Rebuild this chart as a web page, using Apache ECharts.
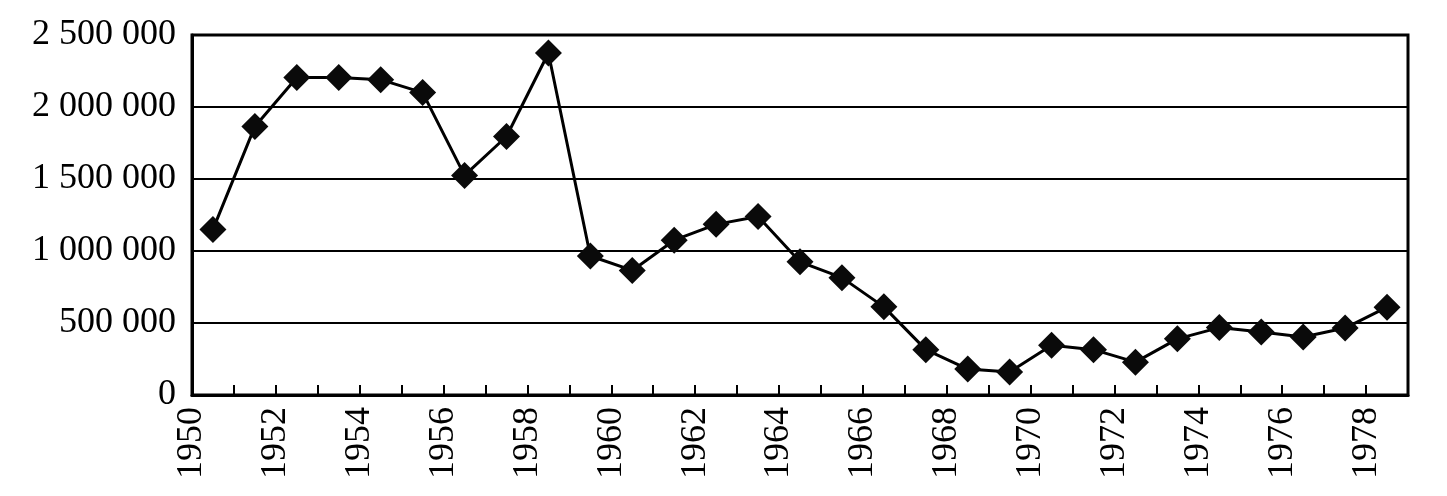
<!DOCTYPE html>
<html>
<head>
<meta charset="utf-8">
<script src="https://cdn.jsdelivr.net/npm/echarts@6/dist/echarts.min.js"></script>
<style>
html,body{margin:0;padding:0;background:#fff;}
#chart{width:1447px;height:496px;}
</style>
</head>
<body>
<div id="chart"></div>
<script>
var years = ['1950','1951','1952','1953','1954','1955','1956','1957','1958','1959',
             '1960','1961','1962','1963','1964','1965','1966','1967','1968','1969',
             '1970','1971','1972','1973','1974','1975','1976','1977','1978'];
var values = [1150000,1865000,2205000,2205000,2190000,2100000,1525000,1795000,2375000,965000,
              865000,1075000,1185000,1240000,925000,815000,612000,315000,180000,160000,
              345000,315000,228000,390000,468000,438000,403000,465000,610000];
var yTicks = [0,500000,1000000,1500000,2000000,2500000];
// boundary labels: one per category boundary (last boundary left blank)
var boundaryLabels = years.concat(['']);

var FONT = '"Liberation Serif", "Times New Roman", serif';
function fmt(v){ return String(v).replace(/\B(?=(\d{3})+(?!\d))/g, ' '); }

var chart = echarts.init(document.getElementById('chart'), null, {renderer:'canvas'});
chart.setOption({
  animation:false,
  backgroundColor:'#fff',
  grid:{left:192,right:39,top:35,bottom:101,show:true,borderColor:'#000',borderWidth:3,backgroundColor:'transparent'},
  xAxis:[{
    type:'category',
    data:years,
    boundaryGap:true,
    axisLine:{show:true,lineStyle:{color:'#000',width:3}},
    axisTick:{show:true,inside:true,length:10,interval:0,lineStyle:{color:'#000',width:2}},
    axisLabel:{show:false},
    splitLine:{show:false}
  },{
    type:'category',
    data:boundaryLabels,
    boundaryGap:false,
    position:'bottom',
    axisLine:{show:false},
    axisTick:{show:false},
    axisLabel:{show:true,interval:1,rotate:90,margin:12,color:'#000',fontFamily:FONT,fontSize:36},
    splitLine:{show:false}
  }],
  yAxis:{
    type:'value',
    min:yTicks[0],
    max:yTicks[yTicks.length-1],
    interval:yTicks[1]-yTicks[0],
    axisLine:{show:true,lineStyle:{color:'#000',width:3}},
    axisTick:{show:false},
    axisLabel:{color:'#000',fontFamily:FONT,fontSize:36,margin:16,padding:[5,0,0,0],formatter:fmt},
    splitLine:{show:true,lineStyle:{color:'#000',width:2}}
  },
  series:[{
    type:'line',
    xAxisIndex:0,
    data:values,
    symbol:'diamond',
    symbolSize:27,
    showAllSymbol:true,
    lineStyle:{color:'#000',width:3},
    itemStyle:{color:'#0a0a0a'}
  }]
});
</script>
</body>
</html>
